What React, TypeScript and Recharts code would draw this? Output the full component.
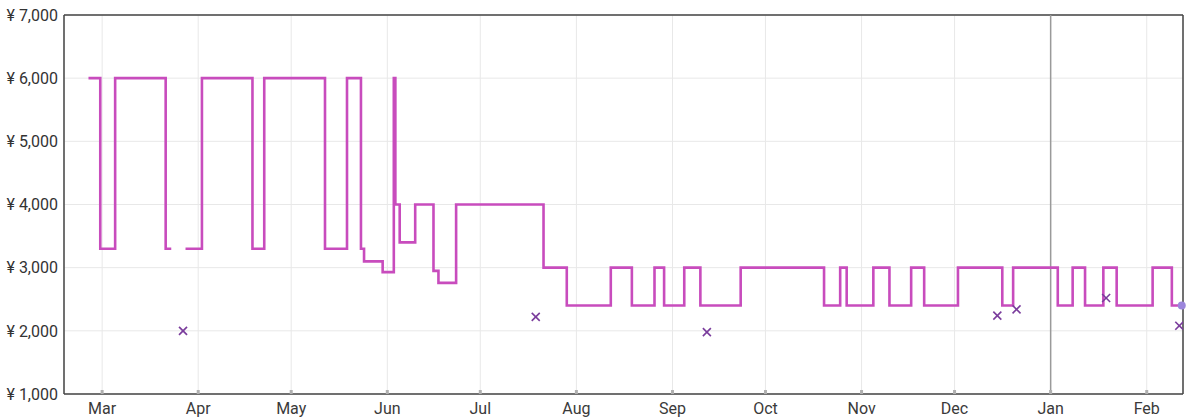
import React from 'react';
import {
  ComposedChart,
  Line,
  Scatter,
  XAxis,
  YAxis,
  CartesianGrid,
  ReferenceLine,
  ReferenceDot,
} from 'recharts';

// x values are days counted from 1 March
const MONTH_LABELS = ['Mar', 'Apr', 'May', 'Jun', 'Jul', 'Aug', 'Sep', 'Oct', 'Nov', 'Dec', 'Jan', 'Feb'];
const MONTH_STARTS = [0, 31, 61, 92, 122, 153, 184, 214, 245, 275, 306, 337];
const PRICE_TICKS = [1000, 2000, 3000, 4000, 5000, 6000, 7000];
const DAY_MIN = -12.3;
const DAY_MAX = 348.7;
const YEAR_CHANGE_DAY = 306;

// price step changes (null = no data)
const STEP_DAYS = [
  -4.4, -0.6, 4.2, 20.5, 22.3, 22.4,
  26.9, 32.2, 48.5, 52.3, 71.9, 79.0, 83.5, 84.5, 90.5, 94.1, 94.6, 96.0,
  101.0, 106.9, 108.5, 114.2, 142.4, 149.9, 164.1, 170.9, 178.2, 181.3,
  187.8, 193.0, 206.0, 232.9, 238.1, 240.2, 248.8, 254.0, 261.0, 265.2,
  276.1, 290.4, 293.9, 308.3, 313.1, 317.1, 323.0, 327.3, 338.9, 345.1, 348.3,
];
const STEP_PRICES = [
  6000, 3300, 6000, 3300, 3300, null,
  3300, 6000, 3300, 6000, 3300, 6000, 3300, 3100, 2930, 6000, 4000, 3400,
  4000, 2950, 2760, 4000, 3000, 2400, 3000, 2400, 3000, 2400,
  3000, 2400, 3000, 2400, 3000, 2400, 3000, 2400, 3000, 2400,
  3000, 2400, 3000, 2400, 3000, 2400, 3000, 2400, 3000, 2400, 2400,
];

// single offers shown as crosses
const CROSS_DAYS = [26.1, 139.9, 195.1, 288.8, 295.0, 323.9, 347.5];
const CROSS_PRICES = [2000, 2220, 1980, 2240, 2340, 2520, 2080];

const LAST_DAY = [348.3];
const LAST_PRICE = [2400];

const stepData = STEP_DAYS.map((day, i) => ({ day, price: STEP_PRICES[i] }));
const crossData = CROSS_DAYS.map((day, i) => ({ day, price: CROSS_PRICES[i] }));

const FONT = 'Roboto, "Noto Sans", sans-serif';

const MonthTick = ({ x, y, payload }: any) => {
  const idx = MONTH_STARTS.indexOf(payload.value);
  return (
    <g>
      <rect x={x - 1.5} y={y - 4} width={3} height={4} fill="#b0b0b0" />
      <text x={x} y={y + 20} textAnchor="middle" fontSize={16} fontFamily={FONT} fill="#3a3a3a">
        {MONTH_LABELS[idx]}
      </text>
    </g>
  );
};

const Cross = ({ cx, cy }: any) => (
  <g stroke="#7a3c9c" strokeWidth={1.6}>
    <line x1={cx - 4} y1={cy - 4} x2={cx + 4} y2={cy + 4} />
    <line x1={cx - 4} y1={cy + 4} x2={cx + 4} y2={cy - 4} />
  </g>
);

export default function App() {
  return (
    <div style={{ position: 'absolute', left: 0, top: 0, width: 1200, height: 420, background: '#fff' }}>
      <ComposedChart
        width={1200}
        height={420}
        data={stepData}
        margin={{ top: 15, right: 17, left: 0, bottom: 0 }}
      >
        <CartesianGrid stroke="#e8e8e8" strokeWidth={1} />
        <XAxis
          dataKey="day"
          type="number"
          domain={[DAY_MIN, DAY_MAX]}
          ticks={MONTH_STARTS}
          allowDataOverflow
          height={26}
          tickSize={0}
          tickMargin={0}
          tick={<MonthTick />}
          axisLine={{ stroke: '#444', strokeWidth: 1.5 }}
          tickLine={false}
        />
        <YAxis
          type="number"
          domain={[1000, 7000]}
          ticks={PRICE_TICKS}
          width={64}
          tickSize={0}
          tickMargin={6}
          tick={{ fontSize: 16, fill: '#333', fontFamily: FONT }}
          tickFormatter={(v) => `¥ ${String(v).replace(/\B(?=(\d{3})+(?!\d))/g, ',')}`}
          axisLine={{ stroke: '#444', strokeWidth: 1.5 }}
          tickLine={false}
        />
        <ReferenceLine y={7000} stroke="#444" strokeWidth={1.5} />
        <ReferenceLine x={DAY_MAX} stroke="#444" strokeWidth={1.5} />
        <ReferenceLine x={YEAR_CHANGE_DAY} stroke="#9a9a9a" strokeWidth={1.5} />
        <Line
          type="stepAfter"
          dataKey="price"
          stroke="#c84cbd"
          strokeWidth={2.6}
          dot={false}
          connectNulls={false}
          isAnimationActive={false}
        />
        <Scatter data={crossData} dataKey="price" shape={<Cross />} isAnimationActive={false} />
        <ReferenceDot
          x={LAST_DAY[0]}
          y={LAST_PRICE[0]}
          r={4}
          fill="#9c86dc"
          stroke="none"
        />
      </ComposedChart>
    </div>
  );
}
